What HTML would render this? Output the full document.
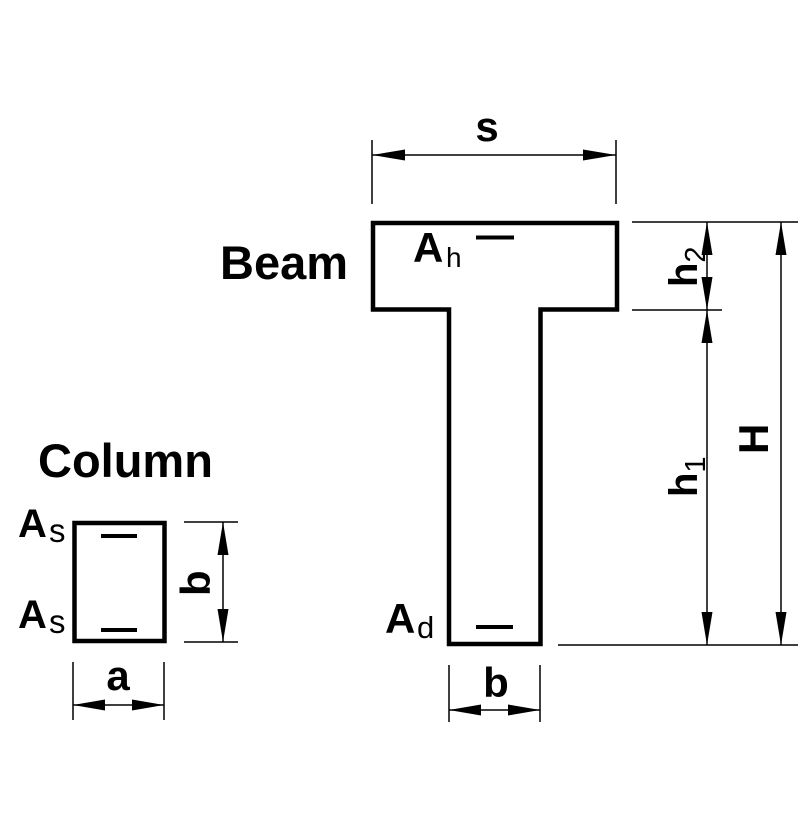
<!DOCTYPE html>
<html>
<head>
<meta charset="utf-8">
<style>
html,body{margin:0;padding:0;background:#fff;}
svg{display:block;}
text{font-family:"Liberation Sans",Arial,sans-serif;fill:#000;}
.b{font-weight:bold;}
</style>
</head>
<body>
<svg width="807" height="840" viewBox="0 0 807 840" xmlns="http://www.w3.org/2000/svg">
<rect width="807" height="840" fill="#fff"/>

<!-- T section -->
<path d="M373,223 H617 V309.5 H540.5 V644 H449 V309.5 H373 Z" fill="none" stroke="#000" stroke-width="4.5" stroke-linejoin="miter"/>
<line x1="476" y1="237.5" x2="514" y2="237.5" stroke="#000" stroke-width="4"/>
<line x1="476" y1="627" x2="513" y2="627" stroke="#000" stroke-width="4"/>

<!-- Column rect -->
<rect x="74.5" y="523" width="90" height="118" fill="none" stroke="#000" stroke-width="4.5"/>
<line x1="101" y1="536" x2="137" y2="536" stroke="#000" stroke-width="4"/>
<line x1="101" y1="630" x2="137" y2="630" stroke="#000" stroke-width="4"/>

<!-- thin dimension lines -->
<g stroke="#000" stroke-width="1.5" fill="none">
  <line x1="372" y1="140" x2="372" y2="204"/>
  <line x1="616" y1="140" x2="616" y2="204"/>
  <line x1="372" y1="155" x2="616" y2="155"/>
  <line x1="632" y1="222" x2="798" y2="222"/>
  <line x1="632" y1="310" x2="722" y2="310"/>
  <line x1="558" y1="645" x2="798" y2="645"/>
  <line x1="707" y1="222" x2="707" y2="645"/>
  <line x1="781" y1="222" x2="781" y2="645"/>
  <line x1="184" y1="522" x2="238" y2="522"/>
  <line x1="184" y1="642" x2="238" y2="642"/>
  <line x1="223" y1="522" x2="223" y2="642"/>
  <line x1="73" y1="662" x2="73" y2="720"/>
  <line x1="164" y1="662" x2="164" y2="720"/>
  <line x1="73" y1="705" x2="164" y2="705"/>
  <line x1="449" y1="665" x2="449" y2="722"/>
  <line x1="540" y1="665" x2="540" y2="722"/>
  <line x1="449" y1="710" x2="540" y2="710"/>
</g>

<!-- arrowheads -->
<g fill="#000">
  <polygon points="372,155 405,149.5 405,160.5"/>
  <polygon points="616,155 583,149.5 583,160.5"/>
  <polygon points="707,222 701.5,255 712.5,255"/>
  <polygon points="707,310 701.5,277 712.5,277"/>
  <polygon points="707,310 701.5,343 712.5,343"/>
  <polygon points="707,645 701.5,612 712.5,612"/>
  <polygon points="781,222 775.5,255 786.5,255"/>
  <polygon points="781,645 775.5,612 786.5,612"/>
  <polygon points="223,522 217.5,555 228.5,555"/>
  <polygon points="223,642 217.5,609 228.5,609"/>
  <polygon points="73,705 105,699.5 105,710.5"/>
  <polygon points="164,705 132,699.5 132,710.5"/>
  <polygon points="449,710 481,704.5 481,715.5"/>
  <polygon points="540,710 508,704.5 508,715.5"/>
</g>

<!-- titles -->
<text class="b" x="220" y="279" font-size="47">Beam</text>
<text class="b" x="38" y="477" font-size="47">Column</text>

<!-- labels -->
<text class="b" x="487" y="141" font-size="42" text-anchor="middle">s</text>

<text class="b" x="413" y="262" font-size="42">A</text>
<text x="446" y="267" font-size="28">h</text>

<text class="b" x="385" y="633" font-size="42">A</text>
<text x="417" y="638" font-size="31">d</text>

<text class="b" x="18" y="537" font-size="40">A</text>
<text x="49" y="542" font-size="33">s</text>
<text class="b" x="18" y="628" font-size="40">A</text>
<text x="49" y="633" font-size="33">s</text>

<text class="b" x="118" y="690" font-size="42" text-anchor="middle">a</text>
<text class="b" x="496" y="697" font-size="42" text-anchor="middle">b</text>

<text class="b" transform="translate(210,596) rotate(-90)" font-size="42">b</text>

<text transform="translate(697,287) rotate(-90)" font-size="40"><tspan class="b">h</tspan><tspan font-size="29" dy="8">2</tspan></text>
<text transform="translate(697,497) rotate(-90)" font-size="40"><tspan class="b">h</tspan><tspan font-size="29" dy="8">1</tspan></text>
<text class="b" transform="translate(768,454) rotate(-90)" font-size="42">H</text>
</svg>
</body>
</html>
